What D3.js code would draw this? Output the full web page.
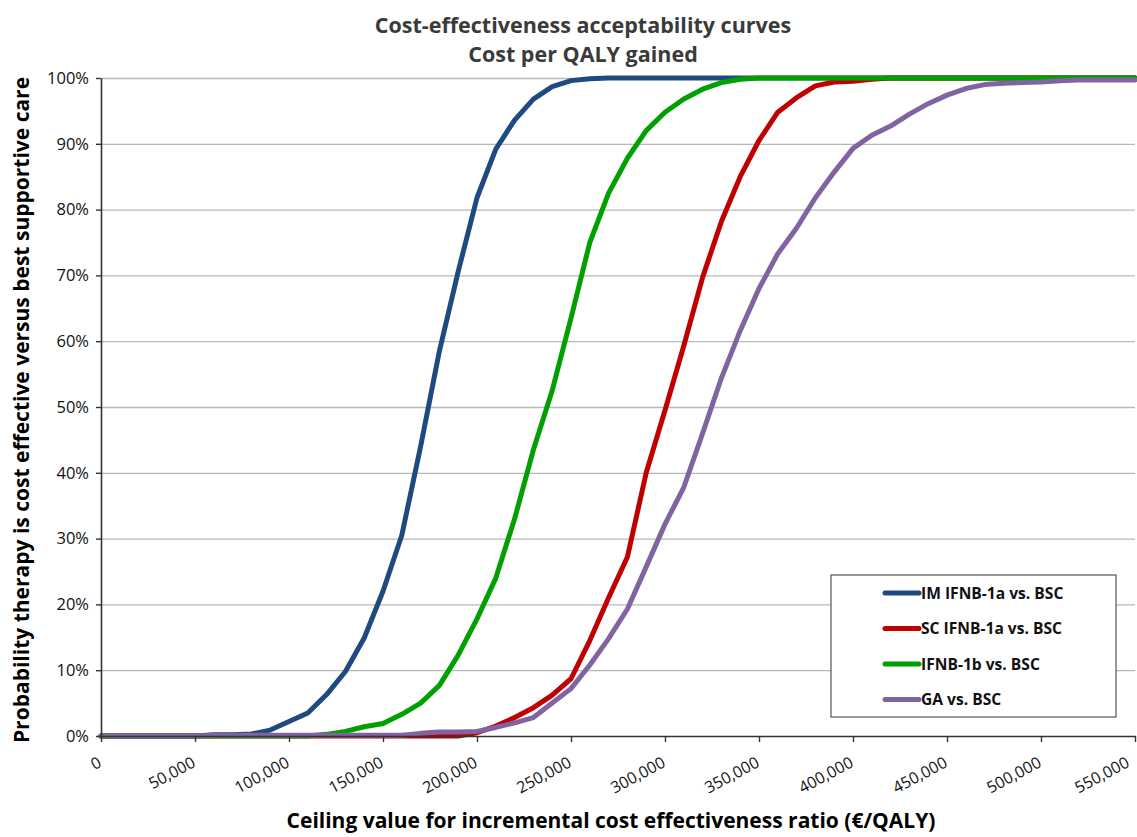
<!DOCTYPE html>
<html>
<head>
<meta charset="utf-8">
<script src="https://cdn.jsdelivr.net/npm/d3@7"></script>
<style>
  body { margin: 0; background: #fff; }
  svg { display: block; font-family: "Open Sans", Lato, sans-serif; }
</style>
</head>
<body>
<script>
// ceiling values (€/QALY), one point every 10,000
const ceilings = [0, 10000, 20000, 30000, 40000, 50000, 60000, 70000, 80000, 90000,
  100000, 110000, 120000, 130000, 140000, 150000, 160000, 170000, 180000, 190000,
  200000, 210000, 220000, 230000, 240000, 250000, 260000, 270000, 280000, 290000,
  300000, 310000, 320000, 330000, 340000, 350000, 360000, 370000, 380000, 390000,
  400000, 410000, 420000, 430000, 440000, 450000, 460000, 470000, 480000, 490000,
  500000, 510000, 520000, 530000, 540000, 550000]

// probability cost effective (%)
const imIfnb1a = [0, 0, 0, 0, 0, 0, 0.2, 0.2, 0.3, 0.9,
  2.2, 3.5, 6.3, 9.8, 14.9, 22, 30.5, 44, 58.5, 70.6,
  81.8, 89.2, 93.6, 96.8, 98.7, 99.6, 99.9, 100, 100, 100,
  100, 100, 100, 100, 100, 100, 100, 100, 100, 100,
  100, 100, 100, 100, 100, 100, 100, 100, 100, 100,
  100, 100, 100, 100, 100, 100]

const scIfnb1a = [0, 0, 0, 0, 0, 0, 0, 0, 0, 0,
  0, 0, 0, 0, 0, 0, 0, 0, 0, 0,
  0.5, 1.5, 2.8, 4.3, 6.2, 8.7, 14.5, 21, 27.2, 40,
  49.5, 59.3, 69.7, 78.2, 85, 90.5, 94.8, 97, 98.8, 99.4,
  99.5, 99.8, 100, 100, 100, 100, 100, 100, 100, 100,
  100, 100, 100, 100, 100, 100]

const ifnb1b = [0, 0, 0, 0, 0, 0, 0, 0, 0, 0,
  0, 0, 0.25, 0.7, 1.4, 1.9, 3.3, 5, 7.7, 12.3,
  17.8, 24, 33, 43.5, 52.5, 63.5, 75, 82.5, 87.8, 92,
  94.8, 96.8, 98.3, 99.3, 99.8, 100, 100, 100, 100, 100,
  100, 100, 100, 100, 100, 100, 100, 100, 100, 100,
  100, 100, 100, 100, 100, 100]

const ga = [0, 0, 0, 0, 0, 0, 0.1, 0.1, 0.1, 0.1,
  0.1, 0.1, 0.1, 0.1, 0.1, 0.1, 0.1, 0.4, 0.6, 0.6,
  0.7, 1.3, 2, 2.8, 5, 7.2, 10.8, 14.8, 19.3, 25.7,
  32.2, 37.8, 46, 54.4, 61.6, 68, 73.3, 77.2, 81.8, 85.7,
  89.3, 91.3, 92.7, 94.5, 96.1, 97.4, 98.4, 99, 99.2, 99.3,
  99.4, 99.6, 99.7, 99.7, 99.7, 99.7]

const seriesNames = ['IM IFNB-1a vs. BSC', 'SC IFNB-1a vs. BSC', 'IFNB-1b vs. BSC', 'GA vs. BSC']
const seriesValues = [imIfnb1a, scIfnb1a, ifnb1b, ga]
const seriesColors = ['#1f4a7f', '#c00000', '#00a000', '#8064a2']

const xTicks = [0, 50000, 100000, 150000, 200000, 250000, 300000, 350000, 400000, 450000, 500000, 550000]
const yTicks = [0, 10, 20, 30, 40, 50, 60, 70, 80, 90, 100]

const w = 1137
const h = 837
const plotLeft = 101
const plotRight = 1135
const plotTop = 78
const plotBottom = 736

const svg = d3.select('body').append('svg')
    .attr('width', w)
    .attr('height', h)

const x = d3.scaleLinear().domain([0, 550000]).range([plotLeft, plotRight])
const y = d3.scaleLinear().domain([0, 100]).range([plotBottom, plotTop])

// gridlines
svg.append('g')
    .attr('transform', `translate(${plotLeft},0)`)
    .call(d3.axisLeft(y).tickValues(yTicks.slice(1)).tickSize(-(plotRight - plotLeft)).tickFormat(''))
    .call(g => g.select('.domain').remove())
    .call(g => g.selectAll('line').attr('stroke', '#b8b8b8').attr('stroke-width', 1.3))

// lines
const line = d3.line()
    .x((d, i) => x(ceilings[i]))
    .y(d => y(d))

svg.selectAll('.curve')
    .data(seriesValues)
    .enter()
    .append('path')
    .attr('class', 'curve')
    .attr('d', d => line(d))
    .attr('fill', 'none')
    .attr('stroke', (d, i) => seriesColors[i])
    .attr('stroke-width', 5)
    .attr('stroke-linejoin', 'round')
    .attr('stroke-linecap', 'round')

// y axis
svg.append('g')
    .attr('transform', `translate(${plotLeft},0)`)
    .call(d3.axisLeft(y).tickValues(yTicks).tickSize(5).tickSizeOuter(0).tickPadding(7)
        .tickFormat(d => d + '%'))
    .call(g => g.select('.domain').attr('stroke', '#333').attr('stroke-width', 1.6))
    .call(g => g.selectAll('line').attr('stroke', '#333').attr('stroke-width', 1.4))
    .call(g => g.selectAll('text')
        .attr('font-family', '"Open Sans", sans-serif')
        .attr('font-size', 16.5)
        .attr('fill', '#111'))

// x axis
svg.append('g')
    .attr('transform', `translate(0,${plotBottom})`)
    .call(d3.axisBottom(x).tickValues(xTicks).tickSize(6).tickSizeOuter(0)
        .tickFormat(d3.format(',')))
    .call(g => g.select('.domain').attr('stroke', '#333').attr('stroke-width', 1.6))
    .call(g => g.selectAll('line').attr('stroke', '#333').attr('stroke-width', 1.4))
    .call(g => g.selectAll('text')
        .attr('font-family', '"Open Sans", sans-serif')
        .attr('font-size', 16)
        .attr('fill', '#111')
        .attr('x', null)
        .attr('y', null)
        .attr('dy', null)
        .attr('text-anchor', 'end')
        .attr('transform', (d, i) => i === xTicks.length - 1
            ? 'translate(-5,30) rotate(-28)'
            : 'translate(1,30) rotate(-28)'))

// titles
svg.append('text')
    .attr('x', 583)
    .attr('y', 33)
    .attr('text-anchor', 'middle')
    .attr('font-size', 21.5)
    .attr('font-weight', 'bold')
    .attr('fill', '#3a3a3a')
    .text('Cost-effectiveness acceptability curves')

svg.append('text')
    .attr('x', 583)
    .attr('y', 62)
    .attr('text-anchor', 'middle')
    .attr('font-size', 21.5)
    .attr('font-weight', 'bold')
    .attr('fill', '#3a3a3a')
    .text('Cost per QALY gained')

svg.append('text')
    .attr('x', 611)
    .attr('y', 828)
    .attr('text-anchor', 'middle')
    .attr('font-size', 21)
    .attr('font-weight', 'bold')
    .attr('fill', '#000')
    .text('Ceiling value for incremental cost effectiveness ratio (€/QALY)')

svg.append('text')
    .attr('transform', `translate(29,${(plotTop + plotBottom) / 2 + 3}) rotate(-90)`)
    .attr('text-anchor', 'middle')
    .attr('font-size', 21)
    .attr('font-weight', 'bold')
    .attr('fill', '#000')
    .text('Probability therapy is cost effective versus best supportive care')

// legend
const legend = svg.append('g')
    .attr('transform', 'translate(831,575)')

legend.append('rect')
    .attr('width', 285)
    .attr('height', 142)
    .attr('fill', '#fff')
    .attr('stroke', '#555')
    .attr('stroke-width', 1.2)

const item = legend.selectAll('.legend-item')
    .data(seriesNames)
    .enter()
    .append('g')
    .attr('class', 'legend-item')
    .attr('transform', (d, i) => `translate(0,${18 + i * 35.5})`)

item.append('line')
    .attr('x1', 54)
    .attr('x2', 88)
    .attr('stroke', (d, i) => seriesColors[i])
    .attr('stroke-width', 5)
    .attr('stroke-linecap', 'round')

item.append('text')
    .attr('x', 90)
    .attr('y', 5.5)
    .attr('font-size', 15.6)
    .attr('font-weight', 'bold')
    .attr('fill', '#111')
    .text(d => d)
</script>
</body>
</html>
